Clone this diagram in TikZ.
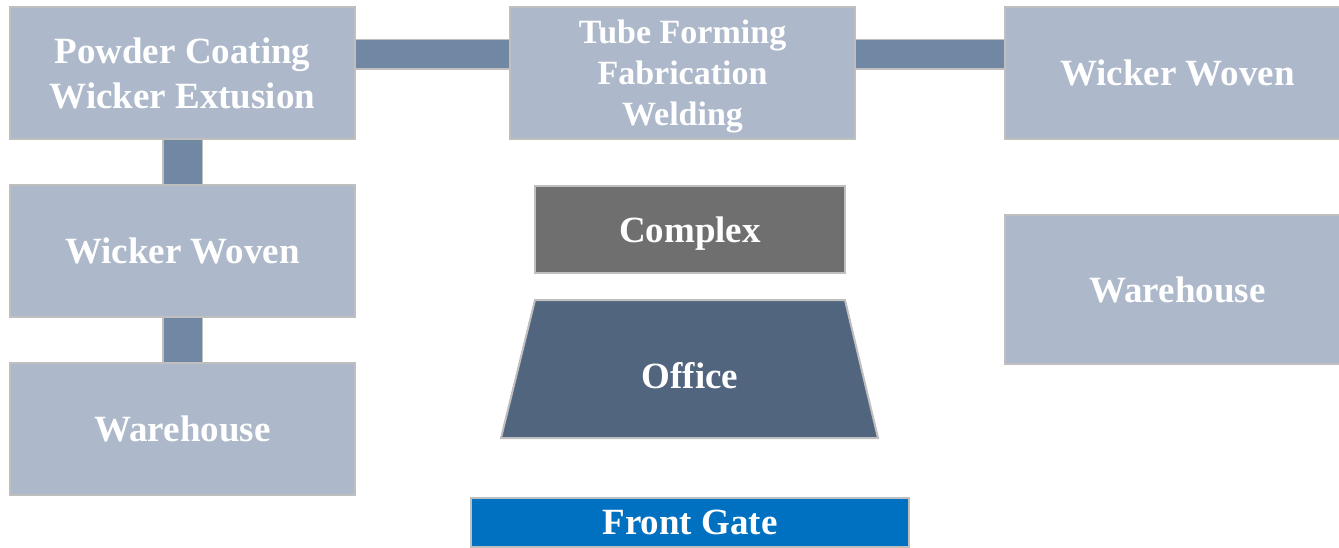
\documentclass[tikz,border=0pt]{standalone}
\usepackage{fontspec}
\setmainfont{Liberation Serif}
\usetikzlibrary{backgrounds}
\definecolor{plantfill}{HTML}{ADB9CA}
\definecolor{plantedge}{HTML}{BFBFBF}
\definecolor{linkfill}{HTML}{7088A3}
\definecolor{corefill}{HTML}{6F6F6F}
\definecolor{officefill}{HTML}{52657F}
\definecolor{gatefill}{HTML}{0070C0}

\begin{document}
\begin{tikzpicture}[x = 1pt, y = -1pt,
  every node/.style = {text=white, font=\bfseries\fontsize{37}{45}\selectfont, align=center, inner sep=0pt, text depth=0pt},
  plant/.style = {rectangle, draw=plantedge, line width=2pt, fill=plantfill, minimum width=345pt, minimum height=132pt},
  core/.style = {plant, fill=corefill, minimum width=310pt, minimum height=87pt},
  gate/.style = {plant, fill=gatefill, minimum width=438pt, minimum height=49pt},
  link/.style = {draw=plantedge, line width=1.5pt, double=linkfill, double distance=28pt},
  vlink/.style = {link, double distance=38pt}]
  \useasboundingbox (0,0) rectangle (1339,548);

  \node[plant] (coating) at (182.5,73) {Powder Coating\\Wicker Extusion};
  \node[plant, font=\bfseries\fontsize{34}{41}\selectfont] (tube) at (682.5,73) {Tube Forming\\Fabrication\\Welding};
  \node[plant] (wovenR) at (1177.5,73) {Wicker Woven};

  \node[plant] (wovenL) at (182.5,251) {Wicker Woven};
  \node[plant] (storeL) at (182.5,429) {Warehouse};
  \node[plant, minimum height=149pt] (storeR) at (1177.5,289.5) {Warehouse};

  \node[core] (complex) at (690,229.5) {Complex};
  \draw[plantedge, line width=2pt, fill=officefill] (535,300) -- (845,300) -- (878,438) -- (501,438) -- cycle;
  \node (office) at (690,375) {Office};
  \node[gate] (gate) at (690,522.5) {Front Gate};

  \begin{scope}[on background layer]
    \draw[link] ([yshift=18.5pt]coating.east) -- ([yshift=18.5pt]tube.west);
    \draw[link] ([yshift=18.5pt]tube.east) -- ([yshift=18.5pt]wovenR.west);
    \draw[vlink] (coating.south) -- (wovenL.north);
    \draw[vlink] (wovenL.south) -- (storeL.north);
  \end{scope}
\end{tikzpicture}
\end{document}
